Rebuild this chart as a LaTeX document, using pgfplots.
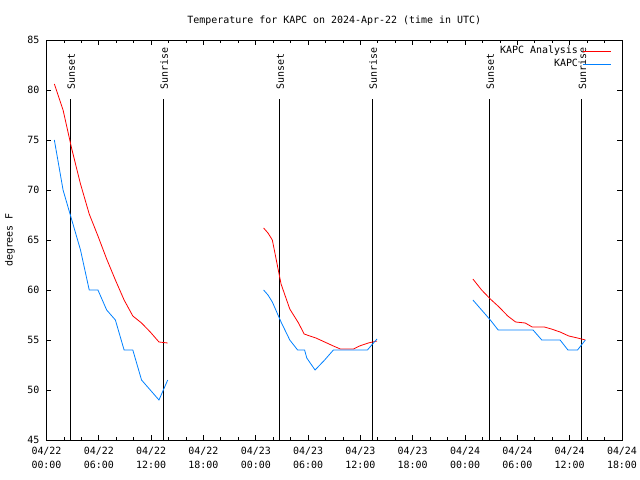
\documentclass[border=0pt]{standalone}
\usepackage{fontspec}
\setmainfont{DejaVu Sans Mono}
\usepackage{pgfplots}
\pgfplotsset{compat=1.18}
\definecolor{obsblue}{RGB}{0,128,255}

\begin{document}
\fontsize{10}{13}\selectfont
\begin{tikzpicture}
\begin{axis}[
  scale only axis, width=575.5bp, height=400bp,
  xmin=0, xmax=66, ymin=45, ymax=85,
  xtick={0,6,...,66},
  xticklabels={{04/22\\00:00},{04/22\\06:00},{04/22\\12:00},{04/22\\18:00},
               {04/23\\00:00},{04/23\\06:00},{04/23\\12:00},{04/23\\18:00},
               {04/24\\00:00},{04/24\\06:00},{04/24\\12:00},{04/24\\18:00}},
  minor x tick num=2,
  ytick={45,50,...,85},
  tick align=inside, tick pos=both,
  major tick length=5bp, minor tick length=3bp,
  axis line style={line width=0.8bp},
  every tick/.style={black, line width=0.8bp},
  x tick label style={align=center, font=\fontsize{10}{14}\selectfont, yshift=-4bp},
  y tick label style={xshift=-3.5bp},
  /pgf/number format/assume math mode=true,
  title={Temperature for KAPC on 2024-Apr-22 (time in UTC)},
  title style={at={(0.5,1)}, anchor=base, yshift=11bp},
  ylabel={degrees F},
  ylabel style={at={(axis description cs:-0.0634,0.5)}, anchor=center},
  unbounded coords=jump,
  legend plot pos=right,
  legend cell align=right,
  legend image code/.code={\draw[#1] (0bp,0bp) -- (28bp,0bp);},
  legend style={draw=none, fill=none, inner sep=0pt, at={(1,1)}, anchor=north east,
    xshift=-10.5bp, yshift=-4.5bp, column sep=3bp, row sep=0pt,
    nodes={inner sep=1.5bp, text height=7.5bp, text depth=2.5bp}},
]
% sunset / sunrise markers
\addplot[black, line width=0.8bp, forget plot] coordinates {(2.73,45) (2.73,79.1)};
\addplot[black, line width=0.8bp, forget plot] coordinates {(13.4,45) (13.4,79.1)};
\addplot[black, line width=0.8bp, forget plot] coordinates {(26.7,45) (26.7,79.1)};
\addplot[black, line width=0.8bp, forget plot] coordinates {(37.36,45) (37.36,79.1)};
\addplot[black, line width=0.8bp, forget plot] coordinates {(50.78,45) (50.78,79.1)};
\addplot[black, line width=0.8bp, forget plot] coordinates {(61.37,45) (61.37,79.1)};

% analysis
\addplot[red, line width=0.8bp] coordinates {
 (0.9,80.6)(1.9,78.0)(2.9,74.1)(3.9,70.6)(4.9,67.6)(5.9,65.4)(6.9,63.1)(7.9,61.0)
 (8.9,59.0)(9.9,57.4)(10.9,56.7)(11.9,55.8)(12.9,54.8)(13.9,54.7)
 (20,nan)
 (24.9,66.2)(25.4,65.7)(25.9,65.0)(26.9,60.6)(27.9,58.1)(28.9,56.7)(29.55,55.6)(30.2,55.4)
 (30.9,55.2)(31.9,54.8)(32.9,54.4)(33.7,54.1)(35.2,54.1)(35.9,54.4)(36.9,54.7)(37.9,54.9)
 (44,nan)
 (48.9,61.1)(49.9,60.0)(50.9,59.1)(51.9,58.3)(52.9,57.4)(53.8,56.8)(54.9,56.7)(55.7,56.3)
 (57.1,56.3)(57.9,56.1)(58.9,55.8)(59.9,55.4)(60.9,55.2)(61.8,55.0)
};
\addlegendentry{KAPC Analysis}

% observations
\addplot[obsblue, line width=0.8bp] coordinates {
 (0.9,75)(1.9,70)(2.9,67)(3.9,64)(4.9,60)(5.9,60)(6.9,58)(7.9,57)(8.9,54)(9.9,54)
 (10.9,51)(11.9,50)(12.9,49)(13.9,51)
 (20,nan)
 (24.9,60)(25.4,59.5)(25.9,58.8)(26.9,56.8)(27.9,55.0)(28.8,54)(29.6,54)(29.85,53.2)
 (30.8,52)(31.9,53)(32.9,54)(36.8,54)(37.9,55.1)
 (44,nan)
 (48.9,59)(49.9,58)(50.9,57)(51.8,56)(55.8,56)(56.8,55)(58.9,55)(59.8,54)(60.9,54)(61.8,55)
};
\addlegendentry{KAPC}

\node[rotate=90, anchor=base west] at ([xshift=4.5bp]axis cs:2.73,79.7) {Sunset};
\node[rotate=90, anchor=base west] at ([xshift=4.5bp]axis cs:13.4,79.7) {Sunrise};
\node[rotate=90, anchor=base west] at ([xshift=4.5bp]axis cs:26.7,79.7) {Sunset};
\node[rotate=90, anchor=base west] at ([xshift=4.5bp]axis cs:37.36,79.7) {Sunrise};
\node[rotate=90, anchor=base west] at ([xshift=4.5bp]axis cs:50.78,79.7) {Sunset};
\node[rotate=90, anchor=base west] at ([xshift=4.5bp]axis cs:61.37,79.7) {Sunrise};
\end{axis}
\pgfresetboundingbox
\path (-46.5bp,-40bp) rectangle (593.5bp,440bp);
\end{tikzpicture}
\end{document}
